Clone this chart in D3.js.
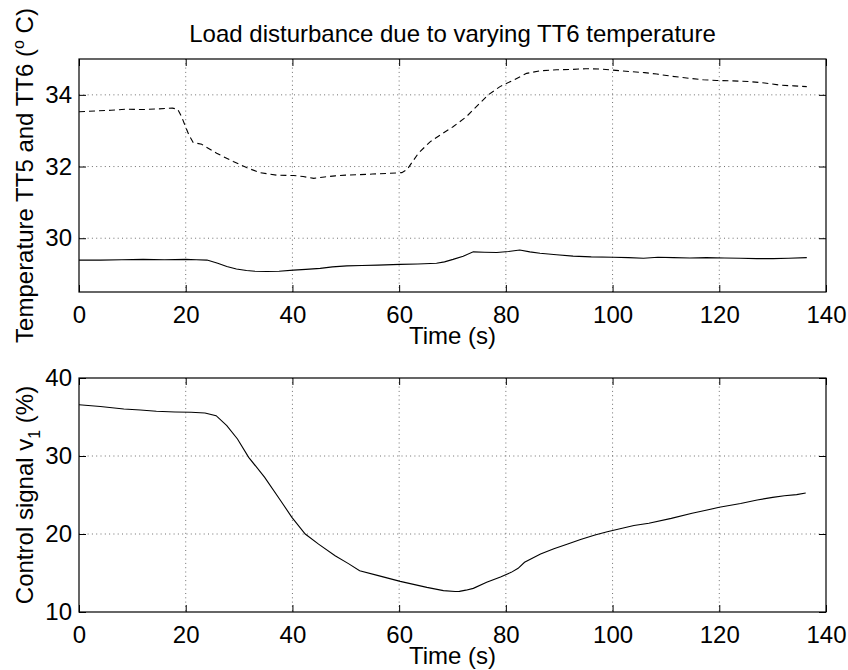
<!DOCTYPE html>
<html>
<head>
<meta charset="utf-8">
<script src="https://cdn.jsdelivr.net/npm/d3@7"></script>
<style>
  html, body { margin: 0; padding: 0; background: #fff; }
  svg { display: block; }
  text { font-family: "Liberation Sans", Arial, Helvetica, sans-serif; fill: #000; }
</style>
</head>
<body>
<svg id="chart" width="848" height="670"></svg>
<script>
// TT6 temperature (dashed trace, top panel)
const tt6Time = [0, 3, 6, 9, 12, 15, 17.5, 18.5, 19.2, 20, 20.6, 21.4, 23, 25.8, 28.9, 31.4, 33.9, 37, 40.2, 42, 44, 46, 48, 50, 52, 55, 58, 60.5, 61.5, 63.6, 65.8, 67.7, 70.1, 72.6, 74.8, 76.7, 78.9, 81.4, 83.9, 86.4, 89.5, 92.6, 95, 97.6, 100, 103.3, 106, 108.3, 111, 114.5, 117, 119.5, 122.5, 125.7, 128.5, 131.4, 134, 136.4];
const tt6Temp = [33.53, 33.55, 33.57, 33.6, 33.59, 33.61, 33.63, 33.6, 33.4, 33.1, 32.88, 32.67, 32.62, 32.37, 32.14, 31.97, 31.83, 31.76, 31.75, 31.72, 31.67, 31.71, 31.74, 31.76, 31.77, 31.79, 31.81, 31.83, 31.92, 32.37, 32.69, 32.88, 33.11, 33.39, 33.72, 34.0, 34.23, 34.41, 34.6, 34.67, 34.7, 34.71, 34.73, 34.72, 34.69, 34.65, 34.62, 34.58, 34.52, 34.46, 34.42, 34.4, 34.39, 34.37, 34.33, 34.27, 34.25, 34.23];

// TT5 temperature (solid trace, top panel)
const tt5Time = [0, 4, 8, 12, 16, 20, 22, 24, 26, 27.7, 29.5, 31.4, 33, 35.2, 37.5, 40.2, 42.5, 45.2, 47.5, 50.2, 53, 56, 60.2, 63.5, 67, 68.5, 70.1, 72, 73.9, 76, 78.3, 80.5, 82.6, 84.5, 86.4, 89.5, 92.6, 96, 100.1, 103, 105.8, 108.5, 111.4, 114.5, 117.6, 121, 124, 127, 130.1, 133, 136.4];
const tt5Temp = [29.39, 29.39, 29.40, 29.41, 29.40, 29.41, 29.40, 29.39, 29.3, 29.21, 29.14, 29.10, 29.08, 29.07, 29.08, 29.11, 29.13, 29.16, 29.2, 29.23, 29.24, 29.25, 29.27, 29.28, 29.30, 29.34, 29.41, 29.5, 29.62, 29.61, 29.6, 29.63, 29.67, 29.62, 29.58, 29.54, 29.5, 29.48, 29.47, 29.46, 29.44, 29.47, 29.46, 29.45, 29.46, 29.45, 29.44, 29.43, 29.43, 29.44, 29.46];

// Control signal v1 (bottom panel)
const v1Time = [0, 4, 8.4, 11.5, 14.5, 18, 21, 23.6, 25.7, 27.7, 29.7, 31.8, 34.8, 37.8, 39.9, 42.4, 44.9, 48, 50.5, 52.6, 56.1, 60.2, 65.2, 68.3, 70.5, 71.3, 72.5, 73.9, 76.4, 79, 81, 82.3, 83.5, 86.5, 89, 91.6, 94, 96.7, 99, 101.8, 104, 106.8, 111, 114.9, 117.5, 120, 124, 127.1, 130, 132.2, 134.5, 136.2];
const v1Signal = [36.58, 36.35, 36.03, 35.9, 35.73, 35.65, 35.6, 35.51, 35.17, 33.89, 32.18, 29.83, 27.26, 24.27, 22.14, 20.0, 18.7, 17.22, 16.2, 15.3, 14.66, 13.93, 13.16, 12.74, 12.62, 12.65, 12.8, 13.03, 13.8, 14.5, 15.08, 15.6, 16.37, 17.44, 18.1, 18.72, 19.3, 19.87, 20.3, 20.73, 21.1, 21.37, 22.0, 22.65, 23.05, 23.42, 23.9, 24.36, 24.7, 24.91, 25.05, 25.25];

// Axis ticks
const timeTicks = [0, 20, 40, 60, 80, 100, 120, 140];
const tempTicks = [30, 32, 34];
const signalTicks = [10, 20, 30, 40];

const svg = d3.select("#chart");
svg.append("rect").attr("width", 848).attr("height", 670).attr("fill", "#fff");

const plotLeft = 79, plotRight = 826;
const fontSize = 24;
const tickLen = 7;

function panel(opts) {
  const g = svg.append("g");
  const x = d3.scaleLinear().domain([0, 140]).range([plotLeft, plotRight]);
  const y = d3.scaleLinear().domain(opts.yDomain).range([opts.bottom, opts.top]);

  // dotted grid
  const grid = g.append("g").attr("stroke", "#000").attr("stroke-width", 0.8)
    .attr("stroke-dasharray", "1,3.3").attr("opacity", 0.7);
  timeTicks.slice(1, -1).forEach(t => {
    grid.append("line").attr("x1", x(t)).attr("x2", x(t))
      .attr("y1", opts.top).attr("y2", opts.bottom);
  });
  opts.yTicks.forEach(v => {
    if (v === opts.yDomain[0] || v === opts.yDomain[1]) return;
    grid.append("line").attr("x1", plotLeft).attr("x2", plotRight)
      .attr("y1", y(v)).attr("y2", y(v));
  });

  // data traces
  const line = d3.line().x(d => x(d[0])).y(d => y(d[1]));
  opts.series.forEach(s => {
    g.append("path").datum(d3.zip(s.t, s.v))
      .attr("d", line).attr("fill", "none").attr("stroke", "#000")
      .attr("stroke-width", 1.1)
      .attr("stroke-dasharray", s.dash || null);
  });

  // axes with inward ticks on all four sides
  const fmt = d3.format("d");
  const axB = d3.axisBottom(x).tickValues(timeTicks).tickFormat(fmt).tickSizeInner(-tickLen).tickSizeOuter(0).tickPadding(14);
  const axT = d3.axisTop(x).tickValues(timeTicks).tickSizeInner(-tickLen).tickSizeOuter(0).tickFormat("");
  const axL = d3.axisLeft(y).tickValues(opts.yTicks).tickFormat(fmt).tickSizeInner(-tickLen).tickSizeOuter(0).tickPadding(7);
  const axR = d3.axisRight(y).tickValues(opts.yTicks).tickSizeInner(-tickLen).tickSizeOuter(0).tickFormat("");

  const style = sel => {
    sel.select(".domain").remove();
    sel.selectAll("line").attr("stroke", "#000").attr("stroke-width", 1);
    sel.selectAll("text").style("font-size", fontSize + "px")
      .style("font-family", "'Liberation Sans', Arial, sans-serif").attr("fill", "#000");
  };
  g.append("g").attr("transform", `translate(0,${opts.bottom})`).call(axB).call(style);
  g.append("g").attr("transform", `translate(0,${opts.top})`).call(axT).call(style);
  g.append("g").attr("transform", `translate(${plotLeft},0)`).call(axL).call(style);
  g.append("g").attr("transform", `translate(${plotRight},0)`).call(axR).call(style);

  // box
  g.append("rect").attr("x", plotLeft).attr("y", opts.top)
    .attr("width", plotRight - plotLeft).attr("height", opts.bottom - opts.top)
    .attr("fill", "none").attr("stroke", "#000").attr("stroke-width", 1.2);

  // x label
  g.append("text").attr("x", (plotLeft + plotRight) / 2).attr("y", opts.bottom + 52)
    .attr("text-anchor", "middle").style("font-size", fontSize + "px").text("Time (s)");

  return { x, y, g };
}

const topPanel = panel({
  top: 59, bottom: 292, yDomain: [28.5, 35], yTicks: tempTicks,
  series: [
    { t: tt6Time, v: tt6Temp, dash: "6,4" },
    { t: tt5Time, v: tt5Temp }
  ]
});

const bottomPanel = panel({
  top: 378, bottom: 612, yDomain: [10, 40], yTicks: signalTicks,
  series: [{ t: v1Time, v: v1Signal }]
});

// title
svg.append("text").attr("x", (plotLeft + plotRight) / 2).attr("y", 42)
  .attr("text-anchor", "middle").style("font-size", fontSize + "px")
  .text("Load disturbance due to varying TT6 temperature");

// y labels
const yl1 = svg.append("text")
  .attr("transform", `translate(33,${(59 + 292) / 2}) rotate(-90)`)
  .attr("text-anchor", "middle").style("font-size", fontSize + "px");
yl1.append("tspan").text("Temperature TT5 and TT6 (");
yl1.append("tspan").attr("dy", -9).style("font-size", "16px").text("o");
yl1.append("tspan").attr("dy", 9).text(" C)");

const yl2 = svg.append("text")
  .attr("transform", `translate(33,${(378 + 612) / 2}) rotate(-90)`)
  .attr("text-anchor", "middle").style("font-size", fontSize + "px");
yl2.append("tspan").text("Control signal v");
yl2.append("tspan").attr("dy", 7).style("font-size", "16px").text("1");
yl2.append("tspan").attr("dy", -7).text("  (%)");
</script>
</body>
</html>
